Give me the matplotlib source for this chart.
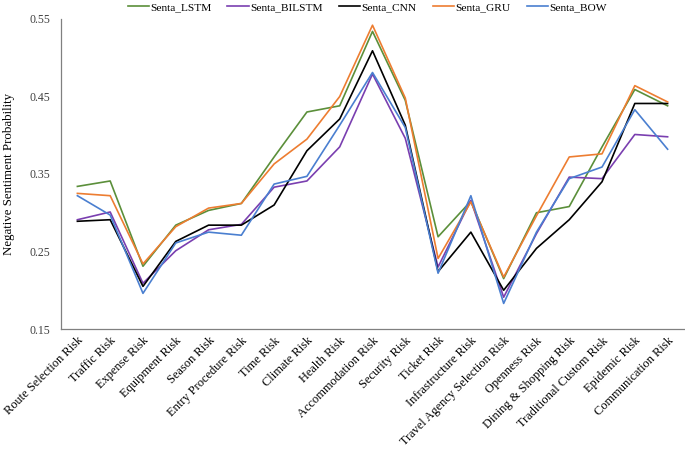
import matplotlib
matplotlib.use("Agg")
import matplotlib.pyplot as plt

categories = ["Route Selection Risk", "Traffic Risk", "Expense Risk", "Equipment Risk",
              "Season Risk", "Entry Procedure Risk", "Time Risk", "Climate Risk",
              "Health Risk", "Accommodation Risk", "Security Risk", "Ticket Risk",
              "Infrastructure Risk", "Travel Agency Selection Risk", "Openness Risk",
              "Dining & Shopping Risk", "Traditional Custom Risk", "Epidemic Risk",
              "Communication Risk"]

senta_lstm = [0.334, 0.341, 0.231, 0.284, 0.303, 0.312, 0.372, 0.430, 0.438, 0.534,
              0.445, 0.269, 0.315, 0.215, 0.300, 0.308, 0.385, 0.459, 0.438]
senta_bilstm = [0.291, 0.301, 0.209, 0.251, 0.278, 0.285, 0.333, 0.341, 0.385, 0.479,
                0.396, 0.230, 0.316, 0.191, 0.273, 0.346, 0.344, 0.401, 0.398]
senta_cnn = [0.289, 0.291, 0.205, 0.263, 0.284, 0.284, 0.310, 0.380, 0.421, 0.509,
             0.413, 0.224, 0.275, 0.200, 0.254, 0.291, 0.340, 0.441, 0.441]
senta_gru = [0.325, 0.322, 0.234, 0.282, 0.306, 0.312, 0.363, 0.395, 0.450, 0.542,
             0.448, 0.241, 0.314, 0.217, 0.296, 0.372, 0.376, 0.464, 0.443]
senta_bow = [0.322, 0.297, 0.196, 0.261, 0.275, 0.271, 0.337, 0.347, 0.413, 0.481,
             0.410, 0.222, 0.322, 0.183, 0.275, 0.344, 0.359, 0.433, 0.382]

series = [("Senta_LSTM", senta_lstm, "#5b8f3a"),
          ("Senta_BILSTM", senta_bilstm, "#7a3fb0"),
          ("Senta_CNN", senta_cnn, "#000000"),
          ("Senta_GRU", senta_gru, "#ed7d31"),
          ("Senta_BOW", senta_bow, "#4a7fd0")]

plt.rcParams['font.family'] = ['Liberation Serif', 'DejaVu Serif']

fig = plt.figure(figsize=(6.85, 4.49), dpi=100)
ax = fig.add_axes([61 / 685, 120 / 449, 623 / 685, 310 / 449])

x = list(range(len(categories)))
for name, vals, col in series:
    ax.plot(x, vals, color=col, lw=1.2, label=name)

ax.set_ylim(0.15, 0.55)
ax.set_yticks([0.15, 0.25, 0.35, 0.45, 0.55])
ax.set_yticklabels(["0.15", "0.25", "0.35", "0.45", "0.55"], fontsize=8.5, color="#404040")
ax.set_xlim(-0.5, 18.5)
ax.set_xticks(x)
ax.set_xticklabels(categories, rotation=45, ha="right", rotation_mode="anchor", fontsize=8.9)
ax.tick_params(axis='both', length=0)
ax.tick_params(axis='x', pad=4)
ax.tick_params(axis='y', pad=8)
for s in ["top", "right"]:
    ax.spines[s].set_visible(False)
for s in ["left", "bottom"]:
    ax.spines[s].set_color("#808080")
    ax.spines[s].set_linewidth(0.9)
ax.set_ylabel("Negative Sentiment Probability", fontsize=9.3, labelpad=10)

fig.legend(loc="center", bbox_to_anchor=(0.536, 1 - 7 / 449), ncol=5, frameon=False,
           fontsize=8.2, handlelength=1.85, handletextpad=0.15, columnspacing=1.4,
           borderpad=0.1)

fig.savefig("out.png", dpi=100)
